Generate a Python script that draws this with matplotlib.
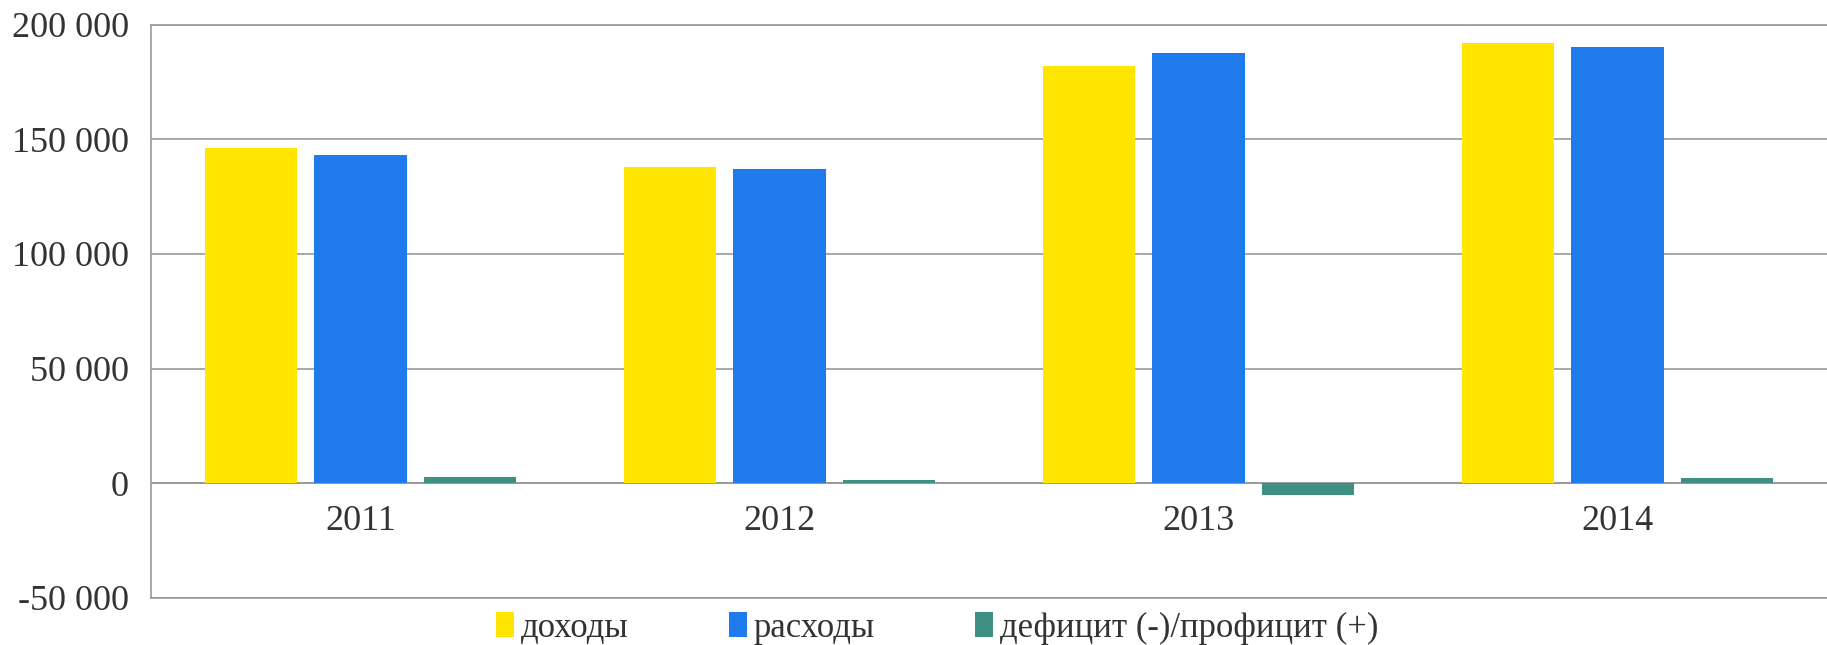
import matplotlib
matplotlib.use("Agg")
import matplotlib.pyplot as plt
import numpy as np
from matplotlib.transforms import offset_copy

years = ["2011", "2012", "2013", "2014"]
dohody = [146000, 138000, 182000, 192000]
rashody = [143000, 137000, 187500, 190000]
deficit = [2900, 1500, -5000, 2400]
series_names = ["доходы", "расходы", "дефицит (-)/профицит (+)"]
colors = ["#FFE500", "#1F7BEB", "#3E9182"]
yticks = [-50000, 0, 50000, 100000, 150000, 200000]
ytick_labels = ["-50 000", "0", "50 000", "100 000", "150 000", "200 000"]

plt.rcParams['font.family'] = ['Liberation Serif', 'DejaVu Serif']

fig = plt.figure(figsize=(18.27, 6.45), dpi=100)
ax = fig.add_axes([0.0827, 0.073, 0.9173, 0.889])

x = np.arange(len(years))
w = 0.22
step = 0.262
for k, (vals, c, name) in enumerate(zip([dohody, rashody, deficit], colors, series_names)):
    ax.bar(x + (k - 1) * step, vals, width=w, color=c, label=name, zorder=3)

ax.set_xlim(-0.5, len(years) - 0.5)
ax.set_ylim(-50000, 200000)
ax.set_yticks(yticks)
ax.set_yticklabels(ytick_labels, fontsize=26, color="#333333")
ax.set_xticks([])
ax.tick_params(axis='y', length=0, pad=16)
ax.yaxis.grid(True, color="#999999", linewidth=1.2, zorder=0)
ax.axhline(0, color="#999999", linewidth=1.2, zorder=2)
for s in ['left', 'bottom', 'top']:
    ax.spines[s].set_color("#999999")
    ax.spines[s].set_linewidth(1.2)
ax.spines['right'].set_visible(False)

for i, y in enumerate(years):
    tr = offset_copy(ax.transData, fig=fig, x=0, y=-16, units='points')
    ax.text(i, 0, y, transform=tr, ha='center', va='top', fontsize=26, color="#333333")

fig.legend(loc='center', bbox_to_anchor=(0.513, 0.026), ncol=3, frameon=False,
           fontsize=25, handlelength=0.5, handleheight=0.75, handletextpad=0.2,
           columnspacing=2.9, labelcolor="#333333")

fig.savefig("out.png", dpi=100)
